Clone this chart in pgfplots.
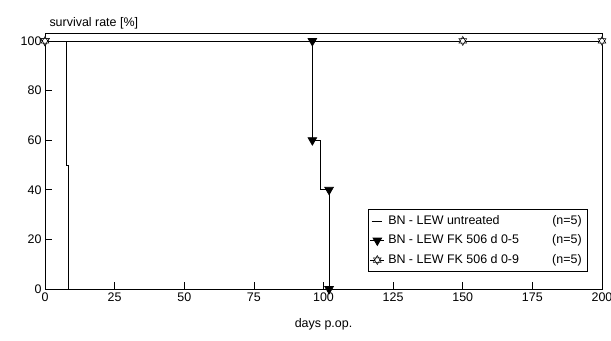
\documentclass[border=0pt]{standalone}
\usepackage{pgfplots}
\pgfplotsset{compat=1.18}
\usetikzlibrary{plotmarks}
\usepackage{fontspec}
\setmainfont{Liberation Sans}
\pgfdeclareplotmark{hexstar}{%
  \pgfpathmoveto{\pgfqpointpolar{90}{\pgfplotmarksize}}%
  \pgfpathlineto{\pgfqpointpolar{210}{\pgfplotmarksize}}%
  \pgfpathlineto{\pgfqpointpolar{330}{\pgfplotmarksize}}%
  \pgfpathclose
  \pgfpathmoveto{\pgfqpointpolar{270}{\pgfplotmarksize}}%
  \pgfpathlineto{\pgfqpointpolar{30}{\pgfplotmarksize}}%
  \pgfpathlineto{\pgfqpointpolar{150}{\pgfplotmarksize}}%
  \pgfpathclose
  \pgfusepathqfillstroke}
\begin{document}
\begin{tikzpicture}
\useasboundingbox (-45bp,-52bp) rectangle (566bp,289bp);
\begin{axis}[
  at={(0,0)}, anchor=south west,
  scale only axis, width=557bp, height=256bp,
  xmin=0, xmax=200, ymin=0, ymax=103.2,
  xtick={0,25,...,200}, ytick={0,20,...,100},
  tick align=inside, tick pos=left,
  major tick length=7bp,
  every tick/.style={black, line width=0.7bp},
  axis line style={line width=0.7bp},
  /pgf/number format/assume math mode=true,
  tick label style={font=\fontsize{12.5}{15}\selectfont},
  xlabel={days p.op.},
  ylabel={survival rate [\%]},
  every axis x label/.style={at={(axis description cs:0.5,0)}, anchor=north, yshift=-26bp, font=\fontsize{12.5}{15}\selectfont},
  every axis y label/.style={at={(axis description cs:0,1)}, anchor=base west, xshift=1bp, yshift=6bp, font=\fontsize{12.5}{15}\selectfont},
  legend style={at={(axis description cs:0.974,0.066)}, anchor=south east,
    draw=black, line width=0.7bp, font=\fontsize{12.5}{15}\selectfont,
    cells={anchor=west}, inner sep=2bp, row sep=0pt,
    nodes={text height=9.5bp, text depth=3bp, inner sep=3.5bp}},
  legend cell align=left,
]
\addplot[black, line width=0.7bp,
  legend image code/.code={\draw[black, line width=0.7bp] (0.15cm,0cm) -- (0.5cm,0cm);}]
  coordinates {(0,100) (7.5,100) (7.5,50) (8.5,50) (8.5,0)};
\addlegendentry{\makebox[164bp][l]{BN - LEW untreated}(n=5)\hspace{12bp}}
\addplot[black, line width=0.7bp, mark=triangle*, mark size=5bp, mark indices={1,2,3,6,7},
  mark options={rotate=180, fill=black, solid},
  legend image code/.code={\draw[black, line width=0.7bp] (0.1cm,0cm) -- (0.6cm,0cm);
    \draw plot[mark=triangle*, mark size=5bp, mark options={rotate=180, fill=black}] coordinates {(0.35cm,0cm)};}]
  coordinates {(0,100) (96,100) (96,60) (99,60) (99,40) (102,40) (102,0)};
\addlegendentry{\makebox[164bp][l]{BN - LEW FK 506 d 0-5}(n=5)\hspace{12bp}}
\addplot[black, line width=0.7bp, mark=hexstar, mark size=4.5bp,
  mark options={fill=white, solid, line width=0.5bp},
  legend image code/.code={\draw[black, line width=0.7bp] (0.1cm,0cm) -- (0.6cm,0cm);
    \draw plot[mark=hexstar, mark size=4.5bp, mark options={fill=white, line width=0.5bp}] coordinates {(0.35cm,0cm)};}]
  coordinates {(0,100) (150,100) (200,100)};
\addlegendentry{\makebox[164bp][l]{BN - LEW FK 506 d 0-9}(n=5)\hspace{12bp}}
\end{axis}
\end{tikzpicture}
\end{document}
